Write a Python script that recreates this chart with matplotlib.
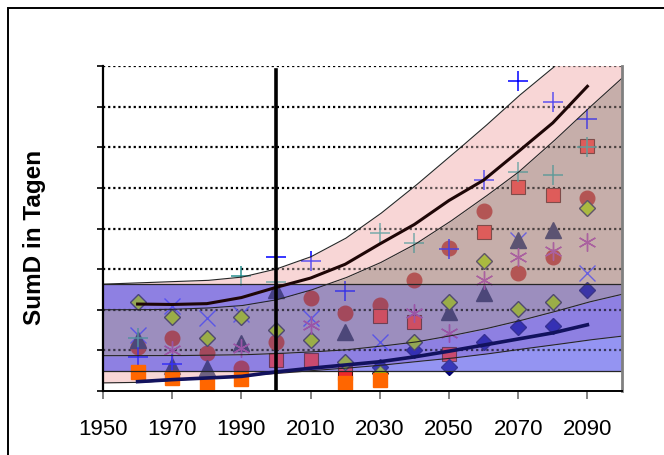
import matplotlib
matplotlib.use("Agg")
import matplotlib.pyplot as plt
from matplotlib.patches import Rectangle
import numpy as np

nan = np.nan

# --- data -----------------------------------------------------------------
CURVE_YEARS = np.arange(1950, 2101, 10)
# upper scenario band (pink) and lower scenario band, boundaries
P_HI = [26.3, 26.6, 26.9, 27.2, 28.0, 30.0, 33.0, 37.5, 43.5, 50.3, 57.5, 64.8, 72.5, 79.5, 87.5, 96.0]
P_LO = [20.0, 20.0, 20.1, 20.4, 21.0, 22.4, 24.8, 27.8, 31.5, 36.0, 41.5, 47.5, 53.8, 61.3, 69.3, 77.0]
B_HI = [8.7, 8.7, 8.7, 8.8, 8.9, 9.2, 9.6, 10.1, 11.0, 12.0, 13.5, 15.2, 17.2, 19.4, 21.8, 23.8]
B_LO = [2.0, 2.1, 2.6, 3.1, 3.7, 4.3, 5.0, 5.6, 6.3, 7.2, 8.0, 9.0, 10.2, 11.3, 12.5, 13.5]

# observed range (horizontal blue band)
BAND_LOW = 4.9
BAND_HIGH = 26.3

YEARS = np.arange(1960, 2091, 10)
UPPER_MEAN = [21.4, 21.3, 21.5, 23.0, 25.5, 27.8, 31.2, 36.2, 41.0, 46.9, 51.9, 58.9, 66.0, 75.0]
LOWER_MEAN = [2.3, 2.8, 3.2, 3.6, 4.7, 5.6, 6.4, 7.2, 8.4, 9.8, 11.3, 12.8, 14.3, 16.3]

BLUE_X = [13.8, 21.0, 18.0, 19.0, nan, 18.0, nan, 12.1, nan, nan, nan, 37.2, nan, 29.0]
CIRCLES = [10.8, 13.1, 9.4, 5.6, 12.1, 22.8, 19.3, 21.2, 27.3, 35.1, 44.2, 29.1, 33.1, 47.5]
RED_SQUARES = [nan, nan, nan, nan, 7.6, 7.6, 4.4, 18.5, 17.1, 9.1, 39.2, 50.3, 48.3, 60.2]
TRIANGLES = [12.6, 6.2, 5.7, 11.7, 24.9, nan, 14.6, nan, nan, 19.5, 24.1, 37.2, 39.7, nan]
NAVY_DIAMONDS = [nan, nan, nan, nan, nan, nan, nan, 6.0, 10.1, 5.8, 12.1, 15.7, 16.0, 24.9]
GREEN_DIAMONDS = [22.0, 18.2, 13.0, 18.2, 15.0, 12.6, 7.2, 4.4, 12.1, 22.0, 31.9, 20.1, 22.0, 45.0]
ASTERISKS = [nan, 10.0, nan, 10.5, nan, 16.3, nan, nan, 19.2, 14.3, 27.3, 33.1, 34.5, 36.8]
TEAL_PLUS = [13.0, nan, nan, 28.2, 26.9, nan, nan, 38.8, 36.4, nan, nan, 54.0, 53.2, 60.0]
BLUE_PLUS = [8.3, 6.6, nan, nan, 33.1, 31.9, 24.5, nan, nan, 35.0, 52.0, 76.2, 71.1, 66.9]
ORANGE_SQUARES = [4.7, 3.1, 1.3, 2.9, nan, nan, 1.9, 2.7, nan, nan, nan, nan, nan, nan]

XTICKS = list(range(1950, 2091, 20))

PINK = "#f8d6d6"
BROWN = "#c6aeaa"
BLUE = "#9494f2"
PINK_BLUE = "#8e80e2"
BROWN_BLUE = "#9c8ebe"
TINT = 0.38

plt.rcParams["font.family"] = ["Liberation Sans", "DejaVu Sans"]

fig = plt.figure(figsize=(6.64, 4.55), dpi=100)
ax = fig.add_axes([103 / 664, 1 - 391 / 455, 519 / 664, 325 / 455])
ax.set_xlim(1950, 2100)
ax.set_ylim(0, 80)

# fine grid for drawing the piecewise-linear curves and splitting regions
xf = np.linspace(1950, 2100, 1501)
phi = np.interp(xf, CURVE_YEARS, P_HI)
plo = np.interp(xf, CURVE_YEARS, P_LO)
bhi = np.interp(xf, CURVE_YEARS, B_HI)
blo = np.interp(xf, CURVE_YEARS, B_LO)
L, H = BAND_LOW, BAND_HIGH


def draw_regions(z, alpha):
    kw = dict(lw=0, zorder=z, alpha=alpha)
    for lo, hi, col, col_in in [(blo, bhi, PINK, PINK_BLUE),
                                (bhi, plo, BROWN, BROWN_BLUE),
                                (plo, phi, PINK, PINK_BLUE)]:
        ax.fill_between(xf, np.maximum(lo, H), np.maximum(hi, H), color=col, **kw)
        ax.fill_between(xf, np.minimum(lo, L), np.minimum(hi, L), color=col, **kw)
        ax.fill_between(xf, np.clip(lo, L, H), np.clip(hi, L, H), color=col_in, **kw)
    ax.fill_between(xf, L, np.clip(blo, L, H), color=BLUE, **kw)
    ax.fill_between(xf, np.clip(phi, L, H), H, color=BLUE, **kw)


draw_regions(1, 1.0)

# dotted grid
for v in range(10, 81, 10):
    ax.axhline(v, color="black", lw=1.6, ls=(0, (1, 1.3)), zorder=2)

# model markers (drawn below the tint layer)
ax.plot(YEARS, BLUE_X, ls="none", marker="x", ms=12, mew=1.0, color="#3333ff", zorder=3.1)
ax.plot(YEARS, CIRCLES, ls="none", marker="o", ms=10.5, color="#a82020", mec="#a82020", zorder=3.2)
ax.plot(YEARS, RED_SQUARES, ls="none", marker="s", ms=9.5, color="#ee2a2a", mec="#551010", mew=0.8, zorder=3.3)
ax.plot(YEARS, TRIANGLES, ls="none", marker="^", ms=11, color="#1c1c50", mec="#1c1c50", zorder=3.4)
ax.plot(YEARS, NAVY_DIAMONDS, ls="none", marker="D", ms=8, color="#000099", mec="#000066", zorder=3.5)
ax.plot(YEARS, GREEN_DIAMONDS, ls="none", marker="D", ms=8.5, color="#99c000", mec="#202040", mew=1.0, zorder=3.6)
ax.plot(YEARS, ASTERISKS, ls="none", marker=(6, 2, 0), ms=13, mew=1.0, color="#993399", zorder=3.7)
ax.plot(YEARS, TEAL_PLUS, ls="none", marker="+", ms=14, mew=1.1, color="#2a9090", zorder=3.8)
ax.plot(YEARS, BLUE_PLUS, ls="none", marker="+", ms=14.5, mew=1.1, color="#0000ff", zorder=3.9)

# pattern tint over markers and grid
draw_regions(5, TINT)

ax.plot(YEARS, ORANGE_SQUARES, ls="none", marker="s", ms=10.5, color="#ff6600", mec="#ff6600", zorder=6)

# band boundaries
for curve in (phi, plo, bhi, blo):
    ax.plot(xf, curve, color="#262626", lw=0.8, zorder=6)
ax.axhline(L, color="#262626", lw=0.9, zorder=6)
ax.axhline(H, color="#262626", lw=0.9, zorder=6)

# means
ax.plot(YEARS, UPPER_MEAN, color="#1e0606", lw=2.2, zorder=6.5)
ax.plot(YEARS, LOWER_MEAN, color="#12125e", lw=2.6, zorder=6.5)

# reference year
ax.axvline(2000, ymin=0, ymax=0.988, color="black", lw=2.6, zorder=7)

ax.spines["top"].set_visible(False)
ax.spines["right"].set_color("#808080")
ax.spines["right"].set_linewidth(2)
ax.spines["left"].set_linewidth(1.6)
ax.spines["bottom"].set_linewidth(1.4)
for s in ax.spines.values():
    s.set_zorder(8)

ax.set_xticks(XTICKS)
ax.set_xticklabels([str(t) for t in XTICKS], fontsize=16)
ax.tick_params(axis="x", direction="out", length=6, width=1.3, color="#7a7a7a", pad=14)
ax.set_yticks(range(0, 81, 10))
ax.set_yticklabels([])
ax.tick_params(axis="y", direction="out", length=4, width=1.2, color="black")

fig.text(35 / 664, 1 - 237 / 455, "SumD in Tagen", rotation=90, fontsize=17.5,
         fontweight="bold", ha="center", va="center")

# outer frame
fig.patches.append(Rectangle((7.5 / 664, -0.1), 1.5, 1.1 - 8.5 / 455, transform=fig.transFigure,
                             fill=False, lw=1.4, ec="black"))

fig.savefig("out.png", dpi=100)
